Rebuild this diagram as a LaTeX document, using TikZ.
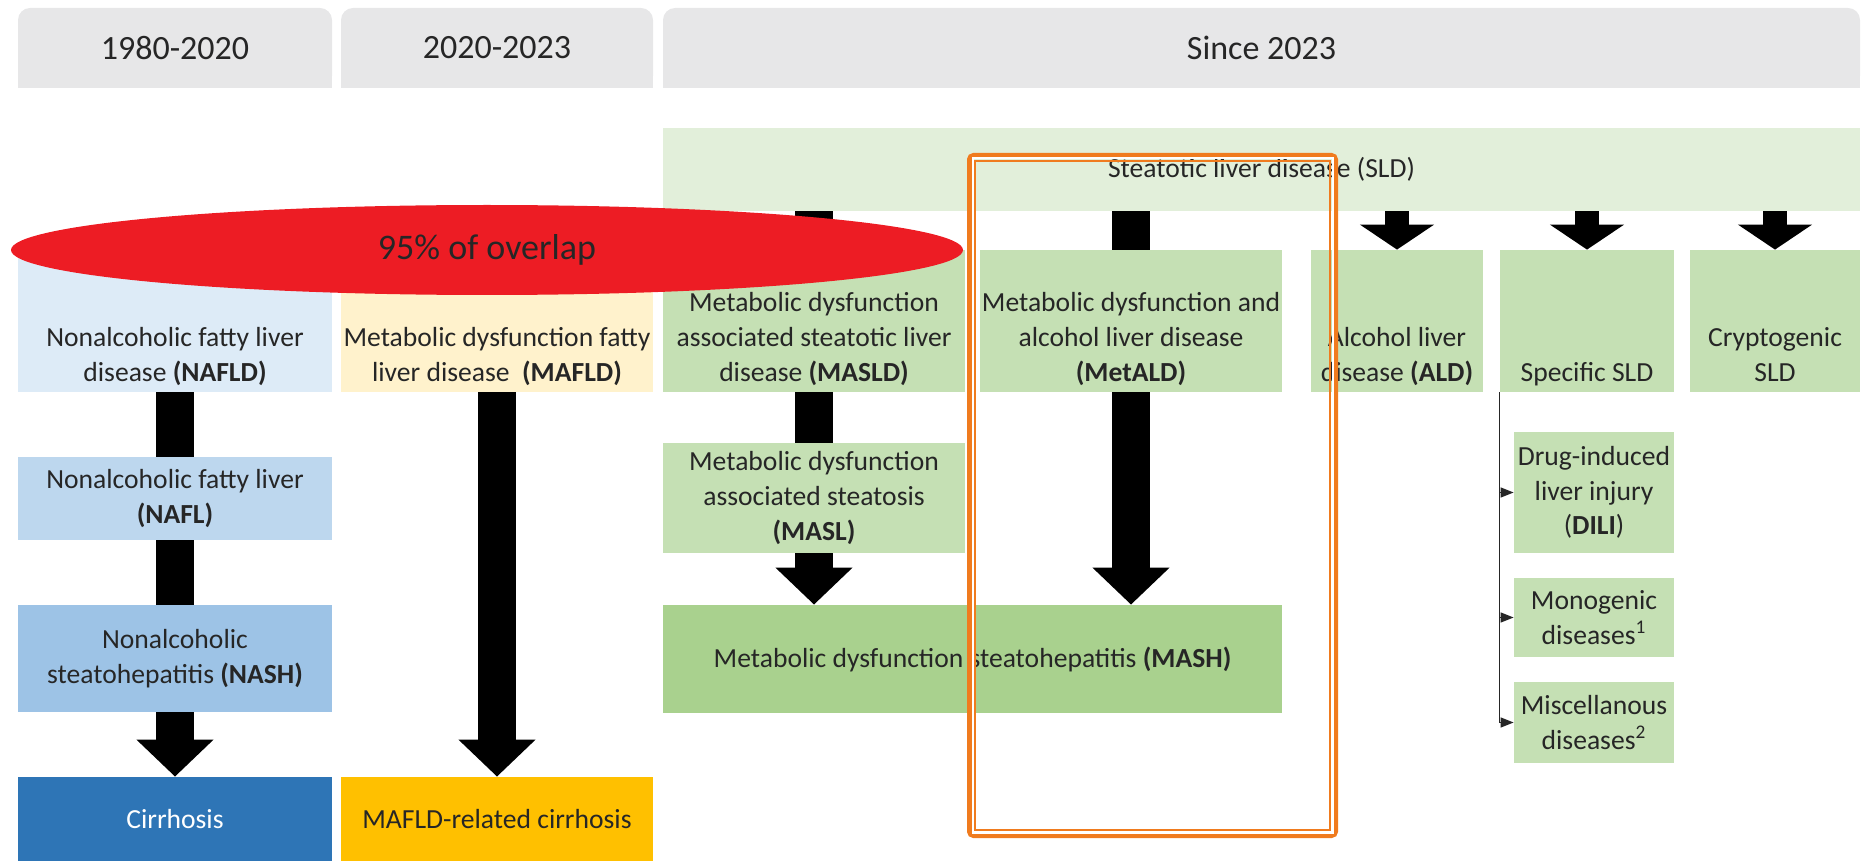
\documentclass[tikz,border=0pt]{standalone}
\usepackage{fontspec}
\setmainfont{Carlito}
\usetikzlibrary{arrows.meta, shapes.geometric}

\definecolor{hdgray}{HTML}{E7E7E8}
\definecolor{inkgray}{HTML}{262626}
\definecolor{nafldbg}{HTML}{DDEBF7}
\definecolor{mafldbg}{HTML}{FFF2CC}
\definecolor{sldbg}{HTML}{E2EFDA}
\definecolor{greenbg}{HTML}{C5E0B4}
\definecolor{naflbg}{HTML}{BDD7EE}
\definecolor{nashbg}{HTML}{9DC3E6}
\definecolor{mashbg}{HTML}{A9D18E}
\definecolor{cirrbg}{HTML}{2E75B6}
\definecolor{mcirrbg}{HTML}{FFC000}
\definecolor{overlapred}{HTML}{ED1C24}
\definecolor{framecol}{HTML}{F07B1E}

\newcommand{\bodysize}{\fontsize{13.8}{17.4}\selectfont}
\newcommand{\headsize}{\fontsize{17}{20}\selectfont}

\begin{document}
\begin{tikzpicture}[x=0.5pt, y=-0.5pt,
    cell/.style={rectangle, inner sep=0pt, align=center, font=\bodysize, text=inkgray},
    lowtext/.style={anchor=south, inner sep=0pt, align=center, font=\bodysize,
        text=inkgray, text depth=0pt, yshift=5.5pt},
    hdtext/.style={inner sep=0pt, font=\headsize, text=inkgray},
    stem/.style={line width=19pt},
    bigarrow/.style={line width=19pt, -{Triangle[width=37.5pt, length=18.5pt]}},
    smallarrow/.style={line width=12pt, -{Triangle[width=36.5pt, length=12.5pt]}},
    tinyarrow/.style={line width=0.6pt, inkgray, -{Triangle[width=5pt, length=6.5pt]}}]
    \useasboundingbox (0,0) rectangle (1874,861);

    % period headers
    \foreach \n/\a/\b/\t in {hdA/18/332/1980-2020, hdB/341/653/2020-2023, hdC/663/1860/Since 2023} {
        \fill[hdgray] (\a,48) rectangle (\b,88);
        \fill[hdgray, rounded corners=6pt] (\a,8) rectangle (\b,88);
        \node[hdtext] (\n) at ({(\a+\b)/2},48) {\t};
    }

    \node[cell, fill=sldbg, minimum width=598.5pt, minimum height=41.5pt] (sld) at (1261.5,169.5)
        {Steatotic liver disease (SLD)};

    % second row, text sits low in the box
    \node[cell, fill=nafldbg, minimum width=157pt, minimum height=71pt,
        label={[lowtext]south:Nonalcoholic fatty liver\\disease \textbf{(NAFLD)}}] (nafld) at (175,321) {};
    \node[cell, fill=mafldbg, minimum width=156pt, minimum height=71pt,
        label={[lowtext]south:Metabolic dysfunction fatty\\liver disease\ \ \textbf{(MAFLD)}}] (mafld) at (497,321) {};
    \node[cell, fill=greenbg, minimum width=151pt, minimum height=71pt,
        label={[lowtext]south:Metabolic dysfunction\\associated steatotic liver\\disease \textbf{(MASLD)}}] (masld) at (814,321) {};
    \node[cell, fill=greenbg, minimum width=151pt, minimum height=71pt,
        label={[lowtext]south:Metabolic dysfunction and\\alcohol liver disease\\\textbf{(MetALD)}}] (metald) at (1131,321) {};
    \node[cell, fill=greenbg, minimum width=86pt, minimum height=71pt,
        label={[lowtext]south:Alcohol liver\\disease \textbf{(ALD)}}] (ald) at (1397,321) {};
    \node[cell, fill=greenbg, minimum width=87pt, minimum height=71pt,
        label={[lowtext]south:Specific SLD}] (spec) at (1587,321) {};
    \node[cell, fill=greenbg, minimum width=85pt, minimum height=71pt,
        label={[lowtext]south:Cryptogenic\\SLD}] (crypt) at (1775,321) {};

    % lower rows
    \node[cell, fill=naflbg, minimum width=157pt, minimum height=41.5pt] (nafl) at (175,498.5)
        {Nonalcoholic fatty liver\\\textbf{(NAFL)}};
    \node[cell, fill=nashbg, minimum width=157pt, minimum height=53.5pt] (nash) at (175,658.5)
        {Nonalcoholic\\steatohepatitis \textbf{(NASH)}};
    \node[cell, fill=cirrbg, text=white, minimum width=157pt, minimum height=42pt] (cirr) at (175,819)
        {Cirrhosis};
    \node[cell, fill=mcirrbg, minimum width=156pt, minimum height=42pt] (mcirr) at (497,819)
        {MAFLD-related cirrhosis};
    \node[cell, fill=greenbg, minimum width=151pt, minimum height=55pt] (masl) at (814,498)
        {Metabolic dysfunction\\associated steatosis\\\textbf{(MASL)}};
    \node[cell, fill=mashbg, minimum width=309.5pt, minimum height=54pt] (mash) at (972.5,659)
        {Metabolic dysfunction steatohepatitis \textbf{(MASH)}};
    \node[cell, fill=greenbg, minimum width=80pt, minimum height=60.5pt] (dili) at (1594,492.5)
        {Drug-induced\\liver injury\\(\textbf{DILI})};
    \node[cell, fill=greenbg, minimum width=80pt, minimum height=39.5pt] (mono) at (1594,617.5)
        {Monogenic\\diseases\textsuperscript{1}};
    \node[cell, fill=greenbg, minimum width=80pt, minimum height=40.5pt] (misc) at (1594,722.5)
        {Miscellanous\\diseases\textsuperscript{2}};

    % arrows
    \draw[stem] (nafld.south) -- (nafl.north);
    \draw[stem] (nafl.south) -- (nash.north);
    \draw[bigarrow] (nash.south) -- (cirr.north);
    \draw[bigarrow] (mafld.south) -- (mcirr.north);
    \draw[stem] (sld.south -| masld.north) -- (masld.north);
    \draw[stem] (sld.south -| metald.north) -- (metald.north);
    \draw[stem] (masld.south) -- (masl.north);
    \draw[bigarrow] (masl.south) -- (masl.south |- mash.north);
    \draw[bigarrow] (metald.south) -- (metald.south |- mash.north);
    \foreach \b in {ald, spec, crypt}
        \draw[smallarrow] (sld.south -| \b.north) -- (\b.north);

    \draw[line width=0.6pt, inkgray] (spec.south west) -- (spec.south west |- misc.west);
    \foreach \b in {dili, mono, misc}
        \draw[tinyarrow] (spec.south west |- \b.west) -- (\b.west);

    \node[ellipse, fill=overlapred, minimum width=476pt, minimum height=45pt, inner sep=0pt,
        font=\fontsize{18}{21}\selectfont, text=inkgray] (overlap) at (487,250) {95\% of overlap};

    % highlight frame
    \draw[framecol, line width=2.5pt, rounded corners=2pt] (969.5,155.5) rectangle (1335.5,835.5);
    \draw[white, line width=1pt] (972.5,158.5) rectangle (1332.5,832.5);
    \draw[framecol, line width=1pt] (975,161) rectangle (1330,830);
\end{tikzpicture}
\end{document}
